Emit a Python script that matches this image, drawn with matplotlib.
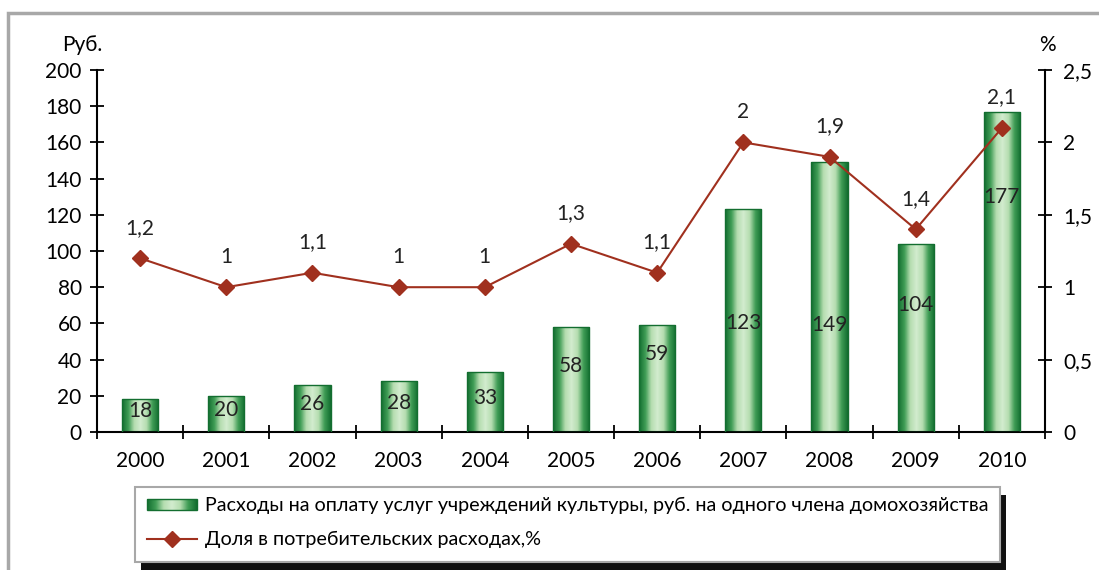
import numpy as np
import matplotlib.pyplot as plt
import matplotlib as mpl
from matplotlib.patches import Rectangle
from matplotlib.colors import LinearSegmentedColormap

mpl.rcParams['font.family'] = ['Lato', 'DejaVu Sans']
fs = 15

years = ['2000', '2001', '2002', '2003', '2004', '2005', '2006', '2007', '2008', '2009', '2010']
spending = [18, 20, 26, 28, 33, 58, 59, 123, 149, 104, 177]
share = [1.2, 1.0, 1.1, 1.0, 1.0, 1.3, 1.1, 2.0, 1.9, 1.4, 2.1]
share_labels = ['1,2', '1', '1,1', '1', '1', '1,3', '1,1', '2', '1,9', '1,4', '2,1']
# where the bar value labels sit (rub.)
bar_label_pos = [11.5, 12, 15.5, 16, 19, 36.5, 43, 60, 59, 70, 130]

bar_name = 'Расходы на оплату услуг учреждений культуры, руб. на одного члена домохозяйства'
line_name = 'Доля в потребительских расходах,%'

line_color = '#A0301E'
grad = LinearSegmentedColormap.from_list('g', ['#136E30', '#3F9C55', '#B5DDB0', '#D3ECCF', '#B5DDB0', '#3F9C55', '#136E30'])

fig = plt.figure(figsize=(10.99, 5.70), dpi=100)
# outer grey frame
fig.patches.append(Rectangle((8 / 1099, -0.1), 1.2, (570 - 13) / 570 + 0.1, transform=fig.transFigure,
                             fill=False, edgecolor='#A8A8A8', linewidth=2.5))

ax = fig.add_axes([97 / 1099, 1 - 432 / 570, (1045 - 97) / 1099, (432 - 70) / 570])
x = np.arange(len(years))
w = 0.42

bars = ax.bar(x, spending, width=w, color='none', edgecolor='#136E30', linewidth=1.0, zorder=3)
gimg = np.linspace(0, 1, 64).reshape(1, -1)
for b in bars:
    im = ax.imshow(gimg, cmap=grad, aspect='auto', zorder=2,
                   extent=[b.get_x(), b.get_x() + b.get_width(), 0, b.get_height()])
    im.set_clip_path(b)
ax.set_xlim(-0.5, len(years) - 0.5)
ax.set_ylim(0, 200)

for xi, v, ly in zip(x, spending, bar_label_pos):
    ax.text(xi, ly, str(v), ha='center', va='center', color='#222222', fontsize=fs, zorder=5)

for s in ['top', 'right']:
    ax.spines[s].set_visible(False)
ax.spines['left'].set_linewidth(1.5)
ax.spines['bottom'].set_linewidth(1.5)
ax.set_yticks(np.arange(0, 201, 20))
ax.set_xticks(x)
ax.set_xticklabels(years)
ax.set_xticks(np.arange(-0.5, len(years) + 0.5, 1), minor=True)
ax.tick_params(axis='x', which='major', length=0, pad=14, labelsize=fs)
ax.tick_params(axis='x', which='minor', direction='inout', length=10, width=1.3)
ax.tick_params(axis='y', direction='inout', length=10, width=1.3, pad=6, labelsize=fs)
ax.text(-0.016, 1.07, 'Руб.', transform=ax.transAxes, ha='center', va='center', fontsize=fs)

ax2 = ax.twinx()
ax2.set_ylim(0, 2.5)
ax2.plot(x, share, color=line_color, linewidth=1.5, marker='D', markersize=8,
         markerfacecolor=line_color, markeredgecolor=line_color, zorder=6)
for xi, v, t in zip(x, share, share_labels):
    ax2.annotate(t, (xi, v), xytext=(0, 22), textcoords='offset points', ha='center', va='center',
                 color='#222222', fontsize=fs)
for s in ['top', 'left', 'bottom']:
    ax2.spines[s].set_visible(False)
ax2.spines['right'].set_linewidth(1.5)
ax2.set_yticks([0, 0.5, 1, 1.5, 2, 2.5])
ax2.set_yticklabels(['0', '0,5', '1', '1,5', '2', '2,5'])
ax2.tick_params(axis='y', direction='inout', length=10, width=1.3, pad=8, labelsize=fs)
ax2.text(1.003, 1.07, '%', transform=ax2.transAxes, ha='center', va='center', fontsize=fs)

# legend box with shadow
lx0, ly0, lw, lh = 135 / 1099, 1 - 562 / 570, (1000 - 135) / 1099, (562 - 487) / 570
fig.patches.append(Rectangle((lx0 + 6 / 1099, ly0 - 8 / 570), lw, lh, transform=fig.transFigure,
                             facecolor='#111111', edgecolor='none', zorder=1))
fig.patches.append(Rectangle((lx0, ly0), lw, lh, transform=fig.transFigure,
                             facecolor='white', edgecolor='#A8A8A8', linewidth=1.5, zorder=2))
lax = fig.add_axes([lx0, ly0, lw, lh])
lax.set_zorder(5)
lax.patch.set_visible(False)
lax.set_xlim(0, 865)
lax.set_ylim(75, 0)
lax.axis('off')
lax.imshow(gimg, cmap=grad, aspect='auto', extent=[12, 62, 23, 12], zorder=3)
lax.add_patch(Rectangle((12, 12), 50, 11, fill=False, edgecolor='#136E30', linewidth=1, zorder=4))
lax.text(70, 18, bar_name, va='center', ha='left', fontsize=14.2)
lax.plot([12, 62], [52, 52], color=line_color, linewidth=1.5)
lax.plot([37], [52], marker='D', color=line_color, markersize=8)
lax.text(70, 52, line_name, va='center', ha='left', fontsize=14.2)

fig.savefig('out.png', dpi=100)
